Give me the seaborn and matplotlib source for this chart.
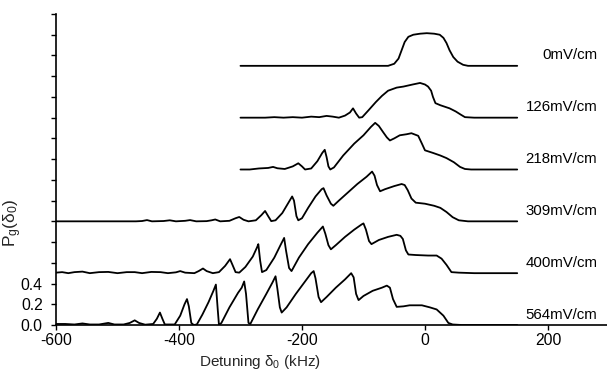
import numpy as np
import pandas as pd
import matplotlib
matplotlib.use("Agg")
import matplotlib.pyplot as plt
import seaborn as sns

# ---------------- data ----------------
fields = ["0mV/cm", "126mV/cm", "218mV/cm", "309mV/cm", "400mV/cm", "564mV/cm"]
offsets = [2.5, 2.0, 1.5, 1.0, 0.5, 0.0]

x_0 = [-300, -60, -50, -43, -38, -33, -27, -19, -8, 3, 15, 24, 30, 35, 40, 46, 53, 62, 70, 150]
p_0 = [0.0, 0.0, 0.02, 0.07, 0.15, 0.23, 0.28, 0.30, 0.31, 0.315, 0.31, 0.30, 0.27, 0.22, 0.15,
       0.085, 0.04, 0.01, 0.0, 0.0]

x_126 = [-300, -260, -245, -230, -215, -200, -185, -172, -160, -150, -140, -130, -122, -117, -112,
         -107, -102, -92, -80, -70, -60, -46, -35, -20, -8, 0, 5, 10, 13, 17, 25, 40, 50, 58, 65,
         80, 150]
p_126 = [0.0, 0.0, 0.005, 0.0, 0.005, 0.0, 0.01, 0.005, 0.017, 0.01, 0.0, 0.02, 0.05, 0.09, 0.04,
         0.0, 0.005, 0.07, 0.15, 0.21, 0.26, 0.29, 0.30, 0.32, 0.335, 0.32, 0.30, 0.26, 0.20, 0.14,
         0.12, 0.09, 0.06, 0.03, 0.005, 0.0, 0.0]

x_218 = [-300, -285, -270, -255, -247, -240, -228, -215, -206, -200, -195, -185, -175, -167, -163,
         -160, -157, -154, -148, -133, -115, -100, -88, -81, -75, -68, -62, -57, -50, -41, -30,
         -22, -11, -5, 0, 13, 25, 35, 47, 57, 65, 75, 150]
p_218 = [0.0, 0.0, 0.01, 0.015, 0.025, 0.012, 0.005, 0.03, 0.06, 0.03, 0.0, 0.01, 0.08, 0.16, 0.19,
         0.12, 0.03, 0.0, 0.02, 0.135, 0.25, 0.33, 0.41, 0.45, 0.42, 0.36, 0.31, 0.28, 0.30, 0.33,
         0.34, 0.35, 0.325, 0.25, 0.185, 0.16, 0.135, 0.11, 0.07, 0.025, 0.005, 0.0, 0.0]

x_309 = [-600, -470, -460, -452, -444, -425, -415, -405, -390, -382, -372, -355, -347, -341, -333,
         -318, -308, -302, -295, -287, -275, -266, -260, -255, -250, -243, -232, -222, -216, -213,
         -209, -206, -200, -190, -178, -168, -165, -160, -153, -149, -140, -125, -110, -95, -86,
         -82, -78, -73, -65, -50, -38, -33, -28, -22, -15, 0, 15, 25, 35, 45, 55, 70, 150]
p_309 = [0.0, 0.0, 0.003, 0.012, 0.0, 0.003, 0.01, 0.0, 0.005, 0.012, 0.0, 0.002, 0.01, 0.018, 0.0,
         0.005, 0.03, 0.042, 0.015, 0.0, 0.01, 0.06, 0.10, 0.05, 0.002, 0.01, 0.08, 0.18, 0.24, 0.20,
         0.05, 0.01, 0.03, 0.13, 0.24, 0.31, 0.32, 0.25, 0.17, 0.15, 0.20, 0.28, 0.36, 0.43, 0.48,
         0.44, 0.35, 0.29, 0.31, 0.34, 0.36, 0.35, 0.30, 0.22, 0.18, 0.17, 0.15, 0.13, 0.09, 0.04,
         0.01, 0.0, 0.0]

x_400 = [-600, -590, -580, -570, -557, -545, -530, -515, -500, -485, -472, -460, -445, -430, -418,
         -405, -398, -390, -375, -368, -361, -355, -345, -335, -325, -317, -313, -308, -302, -292,
         -280, -273, -271, -268, -265, -258, -245, -235, -229, -226, -221, -217, -205, -190, -175,
         -166, -162, -157, -153, -145, -130, -115, -103, -100, -96, -91, -87, -75, -60, -46, -40,
         -36, -31, -27, -15, 5, 19, 27, 35, 43, 55, 80, 150]
p_400 = [0.005, 0.01, 0.0, 0.01, 0.015, 0.0, 0.01, 0.012, 0.0, 0.01, 0.01, 0.0, 0.012, 0.01, 0.0,
         0.008, 0.02, 0.005, 0.0, 0.02, 0.045, 0.02, 0.0, 0.01, 0.07, 0.135, 0.08, 0.01, 0.005, 0.06,
         0.16, 0.25, 0.28, 0.12, 0.01, 0.03, 0.15, 0.27, 0.34, 0.22, 0.05, 0.02, 0.15, 0.28, 0.39,
         0.45, 0.38, 0.27, 0.23, 0.27, 0.35, 0.42, 0.47, 0.48, 0.42, 0.31, 0.28, 0.32, 0.35, 0.37,
         0.36, 0.33, 0.22, 0.18, 0.175, 0.17, 0.17, 0.14, 0.08, 0.01, 0.005, 0.0, 0.0]

x_564 = [-600, -585, -570, -557, -545, -530, -515, -505, -490, -480, -472, -465, -455, -442, -436,
         -431, -427, -423, -407, -398, -391, -387, -384, -380, -376, -371, -362, -352, -344, -340,
         -337, -335, -331, -318, -304, -298, -294, -291, -287, -284, -272, -258, -248, -243, -240,
         -236, -233, -225, -210, -195, -185, -181, -178, -173, -169, -160, -145, -130, -120, -116,
         -112, -108, -100, -85, -70, -62, -57, -52, -46, -35, -25, -14, -5, 8, 19, 30, 38, 45, 60,
         75, 150]
p_564 = [0.01, 0.01, 0.005, 0.015, 0.005, 0.005, 0.02, 0.005, 0.005, 0.02, 0.045, 0.02, 0.003, 0.01,
         0.06, 0.12, 0.06, 0.005, 0.005, 0.09, 0.20, 0.25, 0.18, 0.02, 0.0, 0.005, 0.10, 0.22, 0.33,
         0.39, 0.15, 0.0, 0.02, 0.17, 0.31, 0.36, 0.42, 0.30, 0.02, 0.01, 0.15, 0.30, 0.41, 0.47,
         0.35, 0.17, 0.12, 0.17, 0.30, 0.42, 0.50, 0.52, 0.45, 0.27, 0.22, 0.27, 0.36, 0.44, 0.50,
         0.46, 0.30, 0.24, 0.28, 0.33, 0.36, 0.38, 0.36, 0.25, 0.175, 0.18, 0.19, 0.19, 0.19, 0.17,
         0.15, 0.09, 0.02, 0.005, 0.0, 0.0, 0.0]

series_x = [x_0, x_126, x_218, x_309, x_400, x_564]
series_p = [p_0, p_126, p_218, p_309, p_400, p_564]

xticks = [-600, -400, -200, 0, 200]
yticks = [round(0.2 * i, 1) for i in range(16)]
ytick_labels = ["0.0", "0.2", "0.4"]

# ---------------- table ----------------
frames = []
for name, off, xs, ps in zip(fields, offsets, series_x, series_p):
    frames.append(pd.DataFrame({"x": xs, "y": np.array(ps) + off, "field": name}))
df = pd.concat(frames, ignore_index=True)

# ---------------- style ----------------
sns.set_theme(style="ticks")
plt.rcParams["font.family"] = ["Liberation Sans", "DejaVu Sans"]
plt.rcParams["mathtext.default"] = "regular"

fig = plt.figure(figsize=(6.07, 3.75), dpi=100)
ax = fig.add_axes([56 / 607, 50 / 375, (607 - 56) / 607, (325 - 14) / 375])

sns.lineplot(data=df, x="x", y="y", hue="field", palette=["black"] * len(fields),
             estimator=None, sort=False, legend=False, linewidth=1.3, ax=ax)

for name, off in zip(fields, offsets):
    ax.text(280, off + 0.1, name, ha="right", va="center", fontsize=10.8, color="black")

ax.set_xlim(-600, 296)
ax.set_ylim(0, 3.0)
ax.set_xticks(xticks)
ax.set_xticklabels([str(v) for v in xticks])
ax.set_yticks(yticks)
ax.set_yticklabels(ytick_labels + [""] * (len(yticks) - len(ytick_labels)))
ax.tick_params(axis="both", direction="out", length=3.5, width=1.0, colors="black",
               labelsize=11.3)
ax.tick_params(axis="y", pad=6)
ax.tick_params(axis="x", pad=2)
sns.despine(ax=ax)
for s in ["left", "bottom"]:
    ax.spines[s].set_color("black")
    ax.spines[s].set_linewidth(1.2)

ax.set_xlabel("Detuning δ$_0$ (kHz)", fontsize=11)
ax.xaxis.set_label_coords(0.37, -0.09)
ax.set_ylabel("P$_g$(δ$_0$)", fontsize=12.5)
ax.yaxis.set_label_coords(-0.058, 0.33)

fig.savefig("out.png", dpi=100)
